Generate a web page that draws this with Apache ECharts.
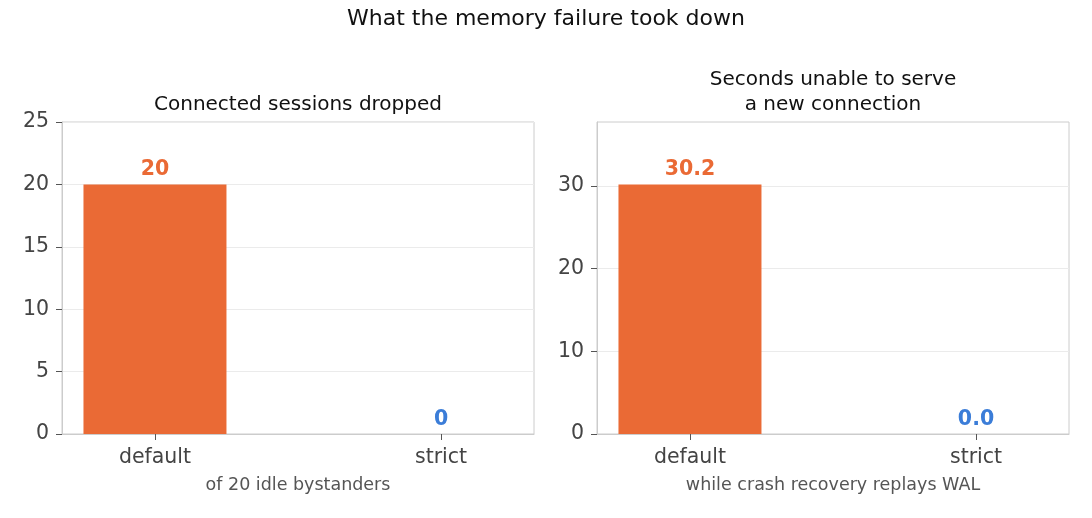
<!DOCTYPE html>
<html>
<head>
<meta charset="utf-8">
<script src="https://cdn.jsdelivr.net/npm/echarts@6/dist/echarts.min.js"></script>
<style>
  html, body { margin: 0; padding: 0; background: #fff; }
  #chart { width: 1092px; height: 518px; }
</style>
</head>
<body>
<div id="chart"></div>
<script>
// data
const categories = ["default", "strict"];
const sessionsDropped = [20, 0];
const secondsUnavailable = [30.2, 0.0];
const barColors = ["#ea6a35", "#3b7dd8"];
const leftTicks = [0, 5, 10, 15, 20, 25];
const rightTicks = [0, 10, 20, 30];

const FONT = "DejaVu Sans";
const chart = echarts.init(document.getElementById("chart"), null, { renderer: "canvas" });

// bar items, each with its own colour + label colour
const makeItems = (values, digits) =>
  values.map((v, i) => ({
    value: [i, v],
    itemStyle: { color: barColors[i] },
    label: { color: barColors[i], formatter: () => v.toFixed(digits) }
  }));

const xAxisFor = (gridIndex, name) => ({
  type: "value",
  gridIndex: gridIndex,
  min: -0.325,
  max: 1.325,
  name: name,
  nameLocation: "middle",
  nameGap: 42,
  nameTextStyle: { fontFamily: FONT, fontSize: 17.5, color: "#555" },
  axisLine: { show: true, lineStyle: { color: "#cccccc" } },
  axisTick: { show: true, length: 6, customValues: [0, 1], lineStyle: { color: "#555" } },
  axisLabel: {
    customValues: [0, 1],
    margin: 13,
    fontFamily: FONT, fontSize: 20.5, color: "#444",
    formatter: (v) => categories[Math.round(v)]
  },
  splitLine: { show: false }
});

const yAxisFor = (gridIndex, max, ticks) => ({
  type: "value",
  gridIndex: gridIndex,
  min: 0,
  max: max,
  interval: ticks[1] - ticks[0],
  axisLine: { show: true, onZero: false, lineStyle: { color: "#cccccc" } },
  axisTick: { show: true, length: 6, customValues: ticks, lineStyle: { color: "#555" } },
  axisLabel: {
    customValues: ticks,
    margin: 13,
    padding: [8, 0, 0, 0],
    fontFamily: FONT, fontSize: 20.5, color: "#444"
  },
  splitLine: { show: true, lineStyle: { color: "#ebebeb" } }
});

const barSeries = (idx, values, digits) => ({
  type: "bar",
  xAxisIndex: idx,
  yAxisIndex: idx,
  barWidth: 143,
  data: makeItems(values, digits),
  label: {
    show: true,
    position: "top",
    distance: 4,
    fontFamily: FONT,
    fontSize: 20.5,
    fontWeight: "bold"
  },
  animation: false
});

const titleStyle = (size, extra) =>
  Object.assign({ fontFamily: FONT, fontSize: size, fontWeight: "normal", color: "#111" }, extra || {});

const option = {
  backgroundColor: "#fff",
  textStyle: { fontFamily: FONT },
  title: [
    {
      text: "What the memory failure took down",
      left: 546, top: 8.5, textAlign: "center", padding: 0,
      textStyle: titleStyle(22)
    },
    {
      text: "Connected sessions dropped",
      left: 298, top: 95, textAlign: "center", padding: 0,
      textStyle: titleStyle(20)
    },
    {
      text: "Seconds unable to serve\na new connection",
      left: 833, top: 68, textAlign: "center", padding: 0,
      textStyle: titleStyle(20, { lineHeight: 24.5 })
    }
  ],
  grid: [
    { left: 62, right: 558, top: 122, bottom: 84, show: true, borderColor: "#cccccc", borderWidth: 1, backgroundColor: "transparent" },
    { left: 597, right: 23, top: 122, bottom: 84, show: true, borderColor: "#cccccc", borderWidth: 1, backgroundColor: "transparent" }
  ],
  xAxis: [
    xAxisFor(0, "of 20 idle bystanders"),
    xAxisFor(1, "while crash recovery replays WAL")
  ],
  yAxis: [
    yAxisFor(0, 25, leftTicks),
    yAxisFor(1, 37.75, rightTicks)
  ],
  series: [
    barSeries(0, sessionsDropped, 0),
    barSeries(1, secondsUnavailable, 1)
  ]
};

chart.setOption(option);
</script>
</body>
</html>
